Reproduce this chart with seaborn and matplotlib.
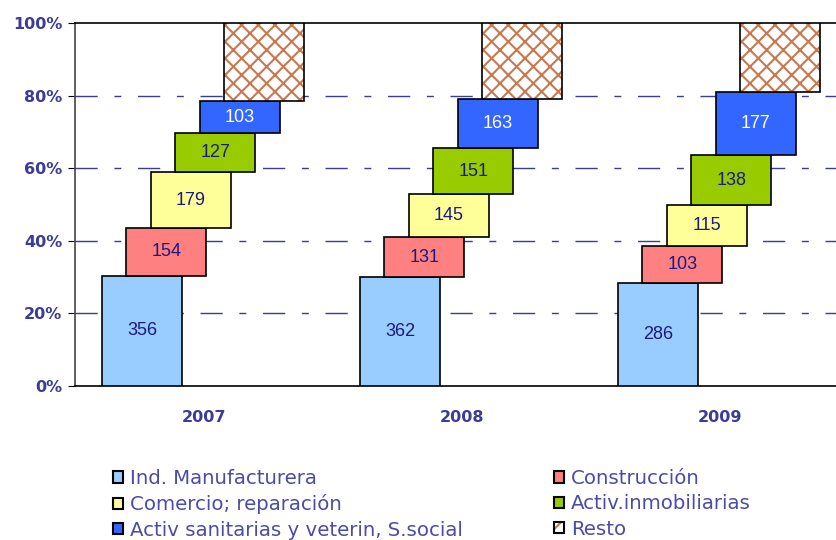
import numpy as np
import seaborn as sns
import matplotlib.pyplot as plt
from matplotlib.patches import Patch

# datos
years = ["2007", "2008", "2009"]
sectors = ["Ind. Manufacturera", "Construcción", "Comercio; reparación",
           "Activ.inmobiliarias", "Activ sanitarias y veterin, S.social", "Resto"]
ind_manuf = [356, 362, 286]
construccion = [154, 131, 103]
comercio = [179, 145, 115]
inmobiliarias = [127, 151, 138]
sanitarias = [103, 163, 177]
resto = [252, 253, 192]

colors = ["#99ccff", "#ff8080", "#ffff99", "#99cc00", "#3366ff", "white"]
text_colors = ["#1a1a80", "#1a1a80", "#1a1a80", "#1a1a80", "white", None]
navy = "#3b3b9a"
brown = "#c87850"

sns.set_style("white")
plt.rcParams['font.family'] = ['DejaVu Sans']
plt.rcParams['hatch.linewidth'] = 1.5

series = np.array([ind_manuf, construccion, comercio, inmobiliarias, sanitarias, resto], dtype=float)
totals = series.sum(axis=0)
pct = series / totals * 100
bottoms = np.vstack([np.zeros(3), np.cumsum(pct, axis=0)[:-1]])

fig = plt.figure(figsize=(8.37, 5.4), dpi=100)
ax = fig.add_axes([75 / 837, 154 / 540, 774 / 837, 363 / 540])

width = 0.31
step = 0.0946
x = np.arange(len(years))

for k in range(len(sectors)):
    left = x - 0.5 + 0.105 + k * step
    if sectors[k] == "Resto":
        ax.bar(left, pct[k], width, bottom=bottoms[k], align="edge",
               color="white", edgecolor=brown, hatch="xx", linewidth=0, zorder=3)
        ax.bar(left, pct[k], width, bottom=bottoms[k], align="edge",
               fill=False, edgecolor="black", linewidth=1.2, zorder=4)
    else:
        ax.bar(left, pct[k], width, bottom=bottoms[k], align="edge",
               color=colors[k], edgecolor="black", linewidth=1.2, zorder=3)
        for i in range(len(years)):
            ax.text(left[i] + width / 2, bottoms[k][i] + pct[k][i] / 2,
                    f"{int(series[k][i])}", ha="center", va="center",
                    fontsize=13, color=text_colors[k], family="Liberation Sans", zorder=5)

ax.set_xlim(-0.5, 2.5)
ax.set_ylim(0, 100)
ax.set_yticks([0, 20, 40, 60, 80, 100])
ax.set_yticklabels([f"{v}%" for v in range(0, 101, 20)], fontweight="bold",
                   color=navy, fontsize=11.5)
ax.set_xticks(x)
ax.set_xticklabels(years, fontweight="bold", color=navy, fontsize=11.5)
ax.set_xticks([-0.5, 0.5, 1.5], minor=True)
ax.tick_params(axis="x", which="major", length=0, pad=17)
ax.tick_params(axis="x", which="minor", length=5, direction="out", color="#444444")
ax.tick_params(axis="y", length=5, direction="out", color="black", pad=4, left=True)

for v in [20, 40, 60, 80]:
    ax.axhline(v, color=navy, linewidth=1, linestyle=(0, (16, 12, 5, 12)), zorder=1)

ax.spines["right"].set_visible(False)
ax.spines["top"].set_color("black")
ax.spines["bottom"].set_color("black")
ax.spines["left"].set_color("#444444")
for s in ["top", "bottom", "left"]:
    ax.spines[s].set_linewidth(1.2)

handles = []
for k in range(len(sectors)):
    if sectors[k] == "Resto":
        handles.append((Patch(facecolor="white", edgecolor=brown, hatch="//", linewidth=0),
                        Patch(fill=False, edgecolor="black", linewidth=1.5)))
    else:
        handles.append(Patch(facecolor=colors[k], edgecolor="black", linewidth=1.5))

leg_kw = dict(frameon=False, fontsize=14.2, handlelength=0.5, handleheight=0.5,
              handletextpad=0.35, labelspacing=0.32, borderaxespad=0, labelcolor="#4b4ba8")
fig.legend([handles[0], handles[2], handles[4]], [sectors[0], sectors[2], sectors[4]],
           loc="upper left", bbox_to_anchor=(105 / 837, 1 - 461 / 540), **leg_kw)
fig.legend([handles[1], handles[3], handles[5]], [sectors[1], sectors[3], sectors[5]],
           loc="upper left", bbox_to_anchor=(546 / 837, 1 - 461 / 540), **leg_kw)

fig.savefig("out.png", dpi=100)
